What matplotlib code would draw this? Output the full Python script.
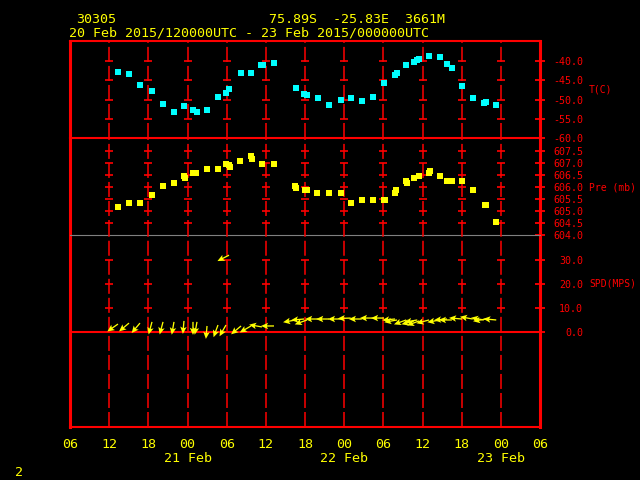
import numpy as np
import matplotlib
matplotlib.use('Agg')
import matplotlib.pyplot as plt

plt.rcParams['lines.scale_dashes'] = False
MONO = 'DejaVu Sans Mono'
RED, YEL, CYAN, GRAY = '#ff0000', '#ffff00', '#00ffff', '#808080'

# ---------------- data (time in hours since 20 Feb 2015 00 UTC) ----------------
station = '30305'
location = '75.89S  -25.83E  3661M'
period = '20 Feb 2015/120000UTC - 23 Feb 2015/000000UTC'

x_ticks = [6, 12, 18, 24, 30, 36, 42, 48, 54, 60, 66, 72, 78]
x_tick_labels = ['06', '12', '18', '00', '06', '12', '18', '00', '06', '12', '18', '00', '06']
date_pos = [24, 48, 72]
date_labels = ['21 Feb', '22 Feb', '23 Feb']

t_hours = [13.35, 15.04, 16.72, 18.56, 20.25, 21.93, 23.46, 24.84, 25.45, 26.99, 28.67,
           29.9, 30.36, 32.2, 33.73, 35.25, 35.55, 37.25,
           40.6, 41.85, 42.3, 44.0, 45.7, 47.5, 49.0, 50.7, 52.4, 54.1, 55.8, 56.1, 57.5,
           58.7, 59.2, 59.5, 61.0, 62.7, 63.75, 64.5, 66.05, 67.7, 69.4, 69.7, 71.3]
temp_c = [-42.9, -43.5, -46.2, -47.8, -51.2, -53.2, -51.7, -52.7, -53.2, -52.7, -49.4,
          -48.3, -47.3, -43.2, -43.1, -41.0, -41.0, -40.5,
          -46.9, -48.6, -48.8, -49.6, -51.4, -50.1, -49.5, -50.4, -49.4, -45.7, -43.6, -43.1, -41.0,
          -40.3, -39.7, -39.5, -38.7, -39.0, -40.9, -41.8, -46.4, -49.5, -50.9, -50.7, -51.4]

p_hours = [13.4, 15.1, 16.7, 18.56, 20.25, 21.93, 23.46, 23.6, 24.85, 25.3, 26.99, 28.67,
           29.9, 30.4, 30.45, 32.1, 33.7, 33.9, 35.45, 37.25,
           40.4, 40.55, 42.0, 42.26, 43.9, 45.6, 47.5, 49.1, 50.7, 52.4, 54.05, 54.25,
           55.8, 55.95, 57.5, 57.6, 58.7, 59.4, 61.0, 61.15, 62.7, 63.8, 64.5, 66.1,
           67.8, 69.5, 69.7, 71.2]
pres_mb = [605.19, 605.36, 605.36, 605.67, 606.06, 606.18, 606.47, 606.39, 606.60, 606.60, 606.76, 606.76,
           606.97, 606.93, 606.85, 607.09, 607.30, 607.17, 606.97, 606.97,
           606.06, 605.98, 605.89, 605.89, 605.77, 605.77, 605.77, 605.36, 605.48, 605.48, 605.47, 605.47,
           605.77, 605.89, 606.26, 606.18, 606.39, 606.47, 606.60, 606.68, 606.47, 606.26, 606.26, 606.26,
           605.89, 605.27, 605.27, 604.57]

w_hours = [13.35, 15.04, 16.72, 18.56, 20.25, 21.93, 23.46, 24.84, 25.45, 26.99, 28.67,
           29.9, 30.36, 32.2, 33.73, 35.4, 37.25,
           40.6, 41.85, 42.3, 44.0, 45.7, 47.5, 49.0, 50.7, 52.4, 54.1, 55.8, 56.1, 57.5,
           58.7, 59.2, 59.5, 61.0, 62.7, 63.75, 64.5, 66.05, 67.7, 69.4, 69.7, 71.3]
w_speed = [3.3, 3.7, 3.7, 4.2, 4.2, 4.2, 4.6, 4.2, 4.2, 2.5, 2.9,
           2.9, 32.0, 2.5, 2.5, 2.1, 2.5,
           5.0, 5.4, 5.0, 5.4, 5.4, 5.4, 5.8, 5.4, 5.8, 5.8, 5.4, 5.0, 5.0,
           4.6, 5.0, 4.6, 5.0, 5.0, 5.4, 5.0, 5.4, 5.4, 5.0, 5.4, 5.0]
w_dir = [55, 50, 40, 15, 15, 10, 5, 0, 10, 5, 20,
         30, 63, 50, 60, 100, 90,
         80, 85, 70, 90, 90, 90, 88, 90, 90, 90, 85, 80, 70,
         75, 80, 70, 75, 80, 85, 90, 95, 100, 100, 80, 95]

t_levels = [-60, -55, -50, -45, -40]
p_levels = [604.0, 604.5, 605.0, 605.5, 606.0, 606.5, 607.0, 607.5]
w_levels = [0, 10, 20, 30]

# ---------------- layout ----------------
W, H = 640, 480
fig = plt.figure(figsize=(6.4, 4.8), dpi=100, facecolor='black')


def rect(x0, y0, x1, y1):
    return [x0 / W, 1 - y1 / H, (x1 - x0) / W, (y1 - y0) / H]


FX0, FX1, FY0, FY1 = 70, 540, 41, 427
XMIN, XMAX = 6, 78
grid_hours = x_ticks[1:-1]

ax0 = fig.add_axes(rect(FX0, FY0, FX1, FY1))
ax0.set_facecolor('black')
ax0.set_xlim(XMIN, XMAX)
ax0.set_ylim(0, 1)
ax0.set_yticks([])
ax0.set_xticks(x_ticks, x_tick_labels)
ax0.tick_params(axis='x', length=0, pad=8, labelcolor=YEL, labelsize=9.6)
for lab in ax0.get_xticklabels():
    lab.set_family(MONO)
for s, lw in (('left', 2.2), ('right', 2.2), ('top', 1.5), ('bottom', 1.5)):
    ax0.spines[s].set_color(RED)
    ax0.spines[s].set_linewidth(lw)
for h, lab in zip(date_pos, date_labels):
    ax0.text(h, -(462 - FY1) / (FY1 - FY0), lab, transform=ax0.get_xaxis_transform(),
             ha='center', va='baseline', color=YEL, fontsize=9.6, family=MONO, clip_on=False)


def panel(y0, y1, ylo, yhi, ticks, fmt):
    ax = fig.add_axes(rect(FX0, y0, FX1, y1))
    ax.set_facecolor('none')
    ax.set_xlim(XMIN, XMAX)
    ax.set_ylim(ylo, yhi)
    for s in ax.spines.values():
        s.set_visible(False)
    ax.set_xticks([])
    ax.yaxis.tick_right()
    ax.set_yticks(ticks, [fmt.format(v) for v in ticks])
    ax.tick_params(axis='y', direction='inout', length=7.2, width=1.3, color=RED,
                   labelcolor=RED, labelsize=7.2, pad=27.4)
    for lab in ax.get_yticklabels():
        lab.set_horizontalalignment('right')
        lab.set_family(MONO)
    return ax


axT = panel(41, 138, -60, -34.8, t_levels, '{:.1f}')
axP = panel(138, 235.5, 604.0, 608.03, p_levels, '{:.1f}')
axW = panel(235.5, 427, -39.6, 40.2, w_levels, '{:.1f}')

dash = (0, (10.8, 2.9))
for ax, levels in ((axT, t_levels[1:]), (axP, p_levels[1:]), (axW, w_levels[1:])):
    lo, hi = ax.get_ylim()
    ax.vlines(grid_hours, lo, hi, colors=RED, linestyles=[dash], linewidth=1.1, zorder=1)
    hh, ll = np.meshgrid(grid_hours, levels)
    ax.plot(hh.ravel(), ll.ravel(), ls='none', marker='_', ms=5.5, mew=1.2, color=RED, zorder=1)

axT.axhline(-60, color=RED, lw=1.5, clip_on=False, zorder=2)
axP.axhline(604.0, color=GRAY, lw=0.8, clip_on=False, zorder=2)
axW.axhline(0, color=RED, lw=1.5, clip_on=False, zorder=2)

# data
axT.plot(t_hours, temp_c, ls='none', marker='s', ms=4.2, mew=0, color=CYAN, zorder=3)
axP.plot(p_hours, pres_mb, ls='none', marker='s', ms=4.2, mew=0, color=YEL, zorder=3)

ARROW_PX = 13
d = np.deg2rad(np.array(w_dir, dtype=float))
u = -np.sin(d) * ARROW_PX
v = -np.cos(d) * ARROW_PX
axW.quiver(w_hours, w_speed, u, v, angles='uv', scale_units='dots', scale=1,
           units='dots', width=1.3, headwidth=5, headlength=5.5, headaxislength=4.5,
           color=YEL, zorder=4, clip_on=False)

# axis titles on the right
tx = (589 - FX0) / (FX1 - FX0)
axT.text(tx, -47.5, 'T(C)', transform=axT.get_yaxis_transform(), ha='left', va='center',
         color=RED, fontsize=7.0, family=MONO, clip_on=False)
axP.text(tx, 606.0, 'Pre (mb)', transform=axP.get_yaxis_transform(), ha='left', va='center',
         color=RED, fontsize=7.0, family=MONO, clip_on=False)
axW.text(tx, 20, 'SPD(MPS)', transform=axW.get_yaxis_transform(), ha='left', va='center',
         color=RED, fontsize=7.0, family=MONO, clip_on=False)

# header / footer
fig.text(76 / W, 1 - 23 / H, station, color=YEL, fontsize=9.6, family=MONO, va='baseline')
fig.text(269 / W, 1 - 23 / H, location, color=YEL, fontsize=9.6, family=MONO, va='baseline')
fig.text(69 / W, 1 - 37 / H, period, color=YEL, fontsize=9.6, family=MONO, va='baseline')
fig.text(15.5 / W, 1 - 476 / H, '2', color=YEL, fontsize=9.6, family=MONO, va='baseline')

fig.savefig('out.png', dpi=100, facecolor='black')
